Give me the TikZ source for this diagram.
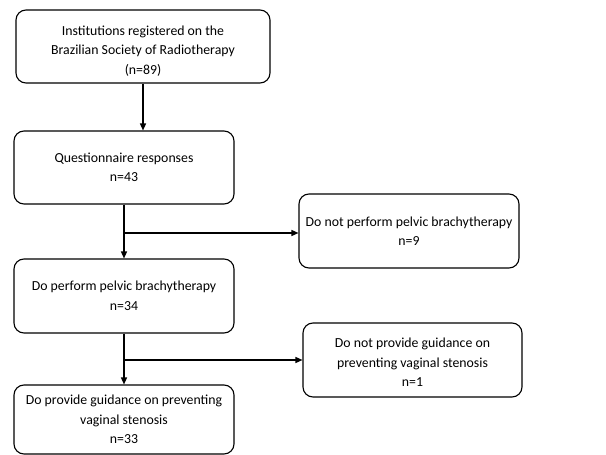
\documentclass[tikz,border=0pt]{standalone}
\usepackage{fontspec}
\setmainfont{Carlito}
\usetikzlibrary{arrows.meta}
\begin{document}
\begin{tikzpicture}[x=1pt,y=-1pt,
  box/.style={draw, line width=1.1pt, rounded corners=10pt, align=center,
    font=\fontsize{13.8}{19.5}\selectfont, inner sep=0pt},
  conn/.style={line width=1.4pt, -{Triangle[length=7pt,width=6pt]}}]
\useasboundingbox (0,0) rectangle (606,455);
\node[box, minimum width=254pt, minimum height=73pt] (b1) at (143,46.5)
  {\rule{0pt}{18pt}Institutions registered on the\\Brazilian Society of Radiotherapy\\(n=89)};
\node[box, minimum width=220pt, minimum height=73pt] (b2) at (124,167.5)
  {Questionnaire responses\\n=43};
\node[box, minimum width=220pt, minimum height=74pt] (b3) at (124,296)
  {Do perform pelvic brachytherapy\\n=34};
\node[box, minimum width=220pt, minimum height=69pt] (b4) at (124,419.5)
  {Do provide guidance on preventing\\vaginal stenosis\\n=33};
\node[box, minimum width=220pt, minimum height=74pt] (r1) at (409,231)
  {Do not perform pelvic brachytherapy\\n=9};
\node[box, minimum width=219pt, minimum height=74pt] (r2) at (412.5,360)
  {\rule{0pt}{14pt}Do not provide guidance on\\preventing vaginal stenosis\\n=1};
\coordinate (j1) at (124,233);
\coordinate (j2) at (124,360);
\draw[conn] (b1.south) -- (b1.south |- b2.north);
\draw[conn] (b2.south) -- (b3.north);
\draw[conn] (j1) -- (j1 -| r1.west);
\draw[conn] (b3.south) -- (b4.north);
\draw[conn] (j2) -- (j2 -| r2.west);
\end{tikzpicture}
\end{document}
